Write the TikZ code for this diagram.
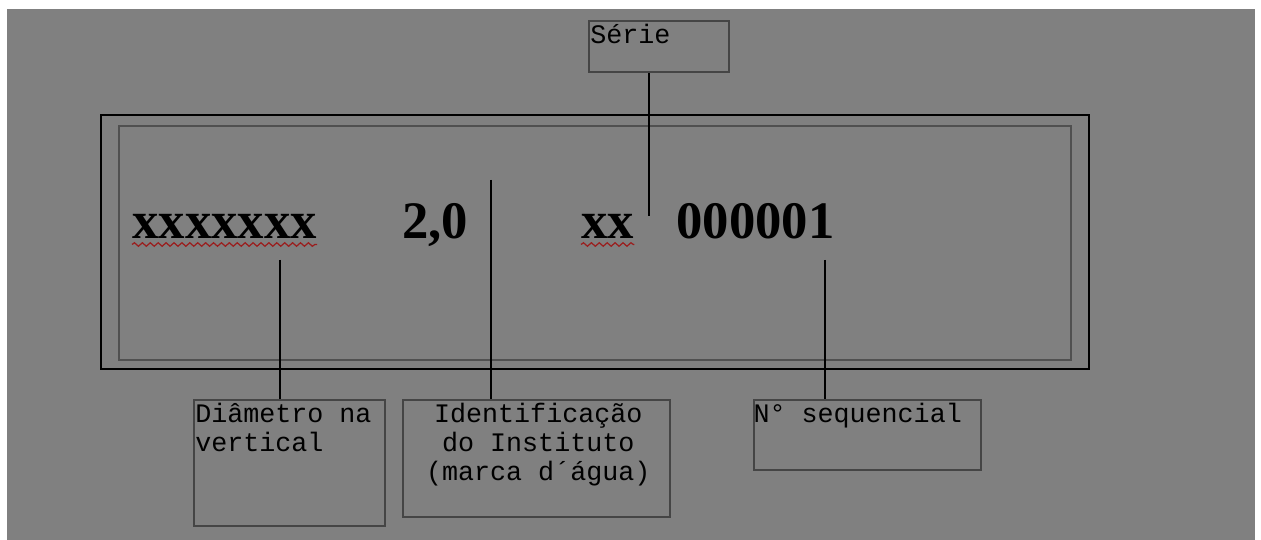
\documentclass[tikz,border=0pt]{standalone}
\usepackage{fontspec}
\setmainfont{Liberation Serif}
\newfontfamily\monofont{Liberation Mono}
\usetikzlibrary{decorations.pathmorphing}
\definecolor{screen}{HTML}{808080}
\definecolor{boxline}{HTML}{454545}
\definecolor{innerline}{HTML}{505050}
\definecolor{spellred}{HTML}{9A1E1E}

\begin{document}
\begin{tikzpicture}[x=0.02cm,y=-0.02cm,
    labelbox/.style={draw=boxline,line width=1pt,rectangle,inner sep=0pt},
    labeltext/.style={font=\monofont\fontsize{15.2}{16.5}\selectfont,inner sep=0pt},
    bigtext/.style={font=\bfseries\fontsize{30}{30}\selectfont,inner sep=0pt,anchor=base west},
    wire/.style={line width=1.1pt},
    spell/.style={draw=spellred,line width=0.7pt,decorate,
        decoration={snake,amplitude=1pt,segment length=4.5pt}}]
    \useasboundingbox (0,0) rectangle (1261,540);
    \fill[screen] (7,9) rectangle (1255,540);

    % the note
    \draw[line width=1.1pt] (101,115) rectangle (1089,369);
    \draw[innerline,line width=0.9pt] (119,126) rectangle (1071,360);

    \path (132,239) node [bigtext] (diam) {xxxxxxx};
    \path (402,239) node [bigtext] (value) {2,0};
    \path (581,239) node [bigtext] (serie) {xx};
    \path (676,239) node [bigtext] (number) {000001};
    \draw[spell] ([yshift=-0.11cm]diam.base west) -- ([yshift=-0.11cm]diam.base east);
    \draw[spell] ([yshift=-0.11cm]serie.base west) -- ([yshift=-0.11cm]serie.base east);

    % label boxes
    \path (659,46.5) node [labelbox,minimum width=2.8cm,minimum height=1.02cm]
	(seriebox) {};
    \path (289.5,463) node [labelbox,minimum width=3.82cm,minimum height=2.52cm]
	(diambox) {};
    \path (536.5,458.5) node [labelbox,minimum width=5.34cm,minimum height=2.34cm]
	(markbox) {};
    \path (867.5,435) node [labelbox,minimum width=4.54cm,minimum height=1.4cm]
	(seqbox) {};

    \node [labeltext,anchor=north west,align=left] (serietext)
	at ([xshift=1pt,yshift=-2pt]seriebox.north west) {Série};
    \node [labeltext,anchor=north west,align=left] (diamtext)
	at ([xshift=1pt,yshift=-2pt]diambox.north west) {Diâmetro na\\vertical};
    \node [labeltext,anchor=north,align=center] (marktext)
	at ([xshift=1pt,yshift=-2pt]markbox.north) {Identificação\\do Instituto\\(marca d´água)};
    \node [labeltext,anchor=north west,align=left] (seqtext)
	at ([xshift=0pt,yshift=-2pt]seqbox.north west) {N° sequencial};

    % connectors
    \coordinate (serietip) at (649,216);
    \coordinate (diamtip) at (280,260);
    \coordinate (watermark) at (491,180);
    \coordinate (numbertip) at (825,260);
    \draw[wire] (serietip |- seriebox.south) -- (serietip);
    \draw[wire] (diamtip) -- (diamtip |- diambox.north);
    \draw[wire] (watermark) -- (watermark |- markbox.north);
    \draw[wire] (numbertip) -- (numbertip |- seqbox.north);
\end{tikzpicture}
\end{document}
